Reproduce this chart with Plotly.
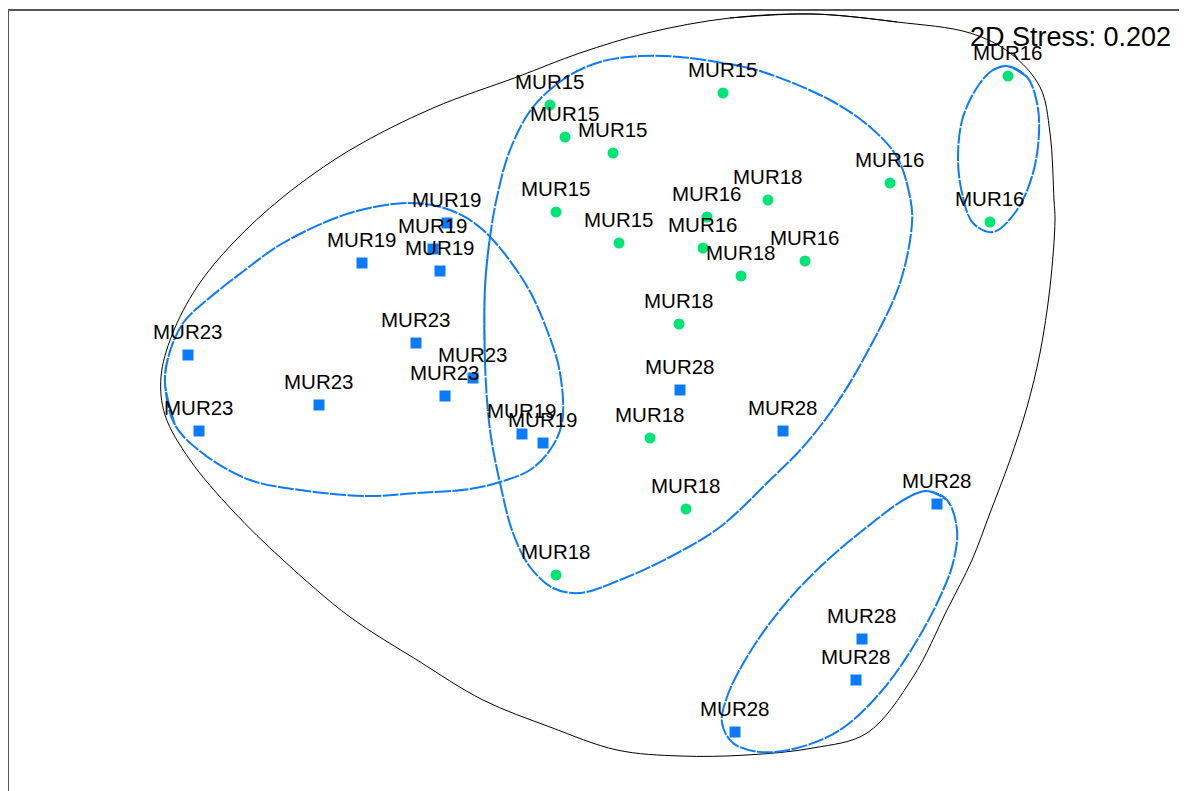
import plotly.graph_objects as go

# ---- sample ordination scores (NMDS1, NMDS2) ----
mur15_x = [-0.50, -0.35, 0.13, -0.44, 0.19, 1.23]
mur15_y = [2.95, 2.63, 2.47, 1.88, 1.57, 3.07]
mur16_x = [4.08, 3.90, 2.90, 1.07, 1.03, 2.05]
mur16_y = [3.24, 1.78, 2.17, 1.83, 1.52, 1.39]
mur18_x = [1.68, 1.41, 0.79, 0.50, 0.86, -0.44]
mur18_y = [2.00, 1.24, 0.76, -0.38, -1.09, -1.75]
mur19_x = [-2.38, -1.53, -1.67, -1.60, -0.78, -0.57]
mur19_y = [1.37, 1.77, 1.51, 1.29, -0.34, -0.43]
mur23_x = [-4.12, -4.01, -2.81, -1.84, -1.27, -1.55]
mur23_y = [0.45, -0.31, -0.05, 0.57, 0.22, 0.04]
mur28_x = [0.80, 1.83, 3.37, 2.62, 2.56, 1.35]
mur28_y = [0.10, -0.31, -1.04, -2.39, -2.80, -3.32]

stress_label = "2D Stress: 0.202"

# ---- cluster outlines ----
outer_x = [2.13, 2.97, 3.70, 4.10, 4.40, 4.50, 4.54, 4.55, 4.50, 4.40, 4.27, 4.10, 3.90, 3.72,
           3.47, 3.13, 2.67, 2.13, 1.47, 0.80, 0.17, -0.50, -1.17, -1.83, -2.50, -3.17, -3.67,
           -4.10, -4.35, -4.39, -4.28, -4.03, -3.67, -3.17, -2.50, -1.67, -0.83, -0.20, 0.47, 1.30]
outer_y = [3.86, 3.78, 3.67, 3.47, 3.13, 2.67, 2.00, 1.80, 1.13, 0.47, -0.07, -0.60, -1.13, -1.60,
           -2.10, -2.77, -3.33, -3.48, -3.55, -3.56, -3.50, -3.27, -3.00, -2.60, -2.17, -1.60, -1.11,
           -0.60, -0.15, 0.23, 0.65, 1.13, 1.57, 2.03, 2.50, 2.92, 3.23, 3.47, 3.67, 3.82]

centre_x = [-1.15, -1.10, -1.03, -0.90, -0.67, -0.33, 0.00, 0.40, 0.80, 1.23, 1.60, 2.30, 2.70,
            2.97, 3.10, 3.12, 3.00, 2.70, 2.37, 2.03, 1.70, 1.20, 0.70, 0.20, -0.20, -0.47, -0.70,
            -0.87, -1.00, -1.10, -1.15]
centre_y = [1.13, 1.63, 2.03, 2.50, 2.93, 3.23, 3.38, 3.44, 3.43, 3.37, 3.29, 3.00, 2.73,
            2.43, 2.03, 1.77, 1.17, 0.53, -0.03, -0.47, -0.80, -1.27, -1.57, -1.80, -1.93, -1.88, -1.67,
            -1.33, -0.83, -0.30, 0.37]

left_x = [-4.35, -4.32, -4.17, -3.93, -3.55, -3.17, -2.50, -1.90, -1.50, -1.17, -0.75, -0.53,
          -0.40, -0.38, -0.50, -0.70, -1.00, -1.30, -1.83, -2.33, -3.00, -3.50, -3.95, -4.25]
left_y = [0.17, 0.42, 0.77, 1.00, 1.30, 1.57, 1.87, 1.97, 1.90, 1.70, 1.17, 0.70,
          0.27, -0.23, -0.50, -0.70, -0.82, -0.89, -0.93, -0.96, -0.90, -0.80, -0.55, -0.25]

right16_x = [4.07, 4.27, 4.37, 4.39, 4.33, 4.17, 3.93, 3.73, 3.62, 3.58, 3.63, 3.80, 3.93]
right16_y = [3.34, 3.23, 2.97, 2.67, 2.27, 1.90, 1.68, 1.77, 2.07, 2.43, 2.83, 3.17, 3.30]

low28_x = [3.27, 3.47, 3.57, 3.53, 3.40, 3.13, 2.80, 2.40, 1.97, 1.60, 1.33, 1.22, 1.27, 1.47,
           1.80, 2.20, 2.67, 3.07]
low28_y = [-0.91, -1.00, -1.30, -1.63, -1.97, -2.47, -2.93, -3.30, -3.48, -3.52, -3.43, -3.23,
           -2.97, -2.57, -2.10, -1.67, -1.27, -0.98]

GREEN = "#00e676"
BLUE = "#0a7bff"
FONT = "Liberation Sans, Arial, sans-serif"

fig = go.Figure()


def closed(xs, ys):
    # wrap the outline so the spline closes smoothly
    return [xs[-1]] + xs + xs[:2], [ys[-1]] + ys + ys[:2]


cx, cy = closed(outer_x, outer_y)
fig.add_trace(go.Scatter(x=cx, y=cy, mode="lines", line=dict(color="black", width=1, shape="spline", smoothing=1),
                         hoverinfo="skip", showlegend=False))
for xs, ys in [(centre_x, centre_y), (left_x, left_y), (right16_x, right16_y), (low28_x, low28_y)]:
    cx, cy = closed(xs, ys)
    fig.add_trace(go.Scatter(x=cx, y=cy, mode="lines",
                             line=dict(color=BLUE, width=2, shape="spline", smoothing=1, dash="16px,1.5px"),
                             hoverinfo="skip", showlegend=False))

groups = [
    ("MUR15", mur15_x, mur15_y, "circle", GREEN, 11),
    ("MUR16", mur16_x, mur16_y, "circle", GREEN, 11),
    ("MUR18", mur18_x, mur18_y, "circle", GREEN, 11),
    ("MUR19", mur19_x, mur19_y, "square", BLUE, 11),
    ("MUR23", mur23_x, mur23_y, "square", BLUE, 11),
    ("MUR28", mur28_x, mur28_y, "square", BLUE, 11),
]
for name, xs, ys, sym, col, sz in groups:
    fig.add_trace(go.Scatter(x=xs, y=ys, mode="markers", name=name,
                             marker=dict(symbol=sym, color=col, size=sz, line=dict(width=0)),
                             showlegend=False))
    for x, y in zip(xs, ys):
        fig.add_annotation(x=x, y=y, text=name, showarrow=False, yshift=24,
                           font=dict(family=FONT, size=20.5, color="black"))

fig.add_annotation(xref="paper", yref="paper", x=0.9815, y=0.967, xanchor="right", yanchor="middle",
                   text=stress_label, showarrow=False, font=dict(family=FONT, size=27, color="black"))

fig.update_layout(
    width=1187, height=791,
    margin=dict(l=1, r=0, t=3, b=0),
    paper_bgcolor="white", plot_bgcolor="white",
    xaxis=dict(range=[-5.91, 5.95], showgrid=False, zeroline=False, showticklabels=False, ticks="",
               showline=True, linecolor="#555555", linewidth=2, side="top"),
    yaxis=dict(range=[-3.99, 3.89], showgrid=False, zeroline=False, showticklabels=False, ticks="",
               showline=True, linecolor="#555555", linewidth=2, side="left"),
    font=dict(family=FONT),
)

fig.write_html("out.html")
